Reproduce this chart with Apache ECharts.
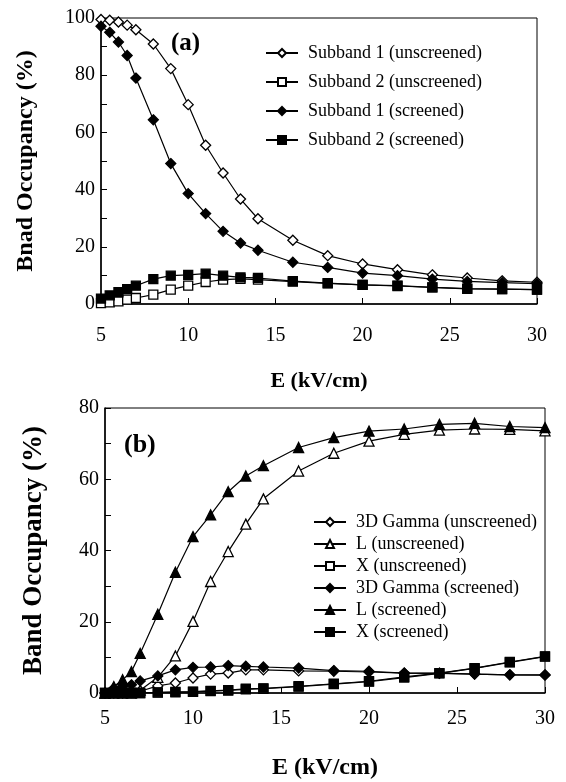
<!DOCTYPE html>
<html>
<head>
<meta charset="utf-8">
<script src="https://cdn.jsdelivr.net/npm/echarts@6/dist/echarts.min.js"></script>
<style>
    html, body { margin: 0; padding: 0; background: #fff; }
    #chart { width: 566px; height: 782px; }
</style>
</head>
<body>
<div id="chart"></div>
<script>
// field values (kV/cm), same for both panels
const fieldE = [5, 5.5, 6, 6.5, 7, 8, 9, 10, 11, 12, 13, 14, 16, 18, 20, 22, 24, 26, 28, 30];

// panel (a)
const sub1Unscreened = [99.5, 99.2, 98.6, 97.5, 95.9, 90.9, 82.3, 69.7, 55.5, 45.8, 36.7, 29.8, 22.3, 16.9, 14.0, 12.0, 10.2, 9.1, 8.1, 7.6];
const sub2Unscreened = [0.3, 0.6, 0.9, 1.5, 2.1, 3.3, 5.0, 6.4, 7.7, 8.5, 8.8, 8.5, 7.8, 7.2, 6.7, 6.3, 5.8, 5.4, 5.2, 5.0];
const sub1Screened = [97.1, 95.0, 91.6, 86.9, 79.0, 64.4, 49.1, 38.6, 31.6, 25.4, 21.3, 18.8, 14.6, 12.8, 10.8, 9.9, 8.7, 7.9, 7.5, 7.1];
const sub2Screened = [1.9, 3.0, 4.1, 5.2, 6.4, 8.7, 9.9, 10.2, 10.6, 9.9, 9.3, 9.1, 8.0, 7.3, 6.7, 6.4, 5.8, 5.3, 5.2, 5.0];

// panel (b)
const gammaUnscreened = [0, 0, 0, 0.2, 0.5, 2.0, 2.8, 4.2, 5.3, 5.6, 6.5, 6.5, 6.2, 6.1, 5.9, 5.6, 5.5, 5.3, 5.1, 5.0];
const lUnscreened = [0, 0, 0, 0, 0.8, 4.4, 10.4, 20.1, 31.3, 39.7, 47.4, 54.5, 62.3, 67.3, 70.7, 72.6, 73.8, 74.1, 74.0, 73.6];
const xUnscreened = [0, 0, 0, 0, 0, 0.1, 0.2, 0.3, 0.5, 0.7, 1.0, 1.2, 1.8, 2.5, 3.2, 4.3, 5.5, 6.9, 8.6, 10.2];
const gammaScreened = [0, 1.3, 1.8, 2.3, 3.4, 4.8, 6.5, 7.2, 7.3, 7.7, 7.5, 7.3, 7.0, 6.3, 6.1, 5.6, 5.6, 5.3, 5.1, 5.1];
const lScreened = [0, 1.8, 3.7, 6.0, 11.1, 22.1, 33.9, 43.9, 50.0, 56.5, 60.9, 63.8, 68.9, 71.7, 73.5, 74.1, 75.4, 75.7, 74.8, 74.5];
const xScreened = [0, 0, 0, 0, 0, 0.2, 0.3, 0.4, 0.6, 0.8, 1.2, 1.3, 1.9, 2.6, 3.3, 4.5, 5.6, 7.0, 8.7, 10.3];

const xTicks = [5, 30, 5];   // min, max, step
const yTicksA = [0, 100, 20];
const yTicksB = [0, 80, 20];

const legendA = ['Subband 1 (unscreened)', 'Subband 2 (unscreened)', 'Subband 1 (screened)', 'Subband 2 (screened)'];
const legendB = ['3D Gamma (unscreened)', 'L (unscreened)', 'X (unscreened)', '3D Gamma (screened)', 'L (screened)', 'X (screened)'];

window.addEventListener('load', function () {
    const font = 'Liberation Serif';
    let myChart = echarts.init(document.querySelector('#chart'), null, { renderer: 'canvas' });

    function pairs(values) {
        return fieldE.map(function (e, i) { return [e, values[i]]; });
    }

    function makeSeries(name, values, symbol, filled, idx, size) {
        return {
            name: name,
            type: 'line',
            xAxisIndex: idx,
            yAxisIndex: idx,
            data: pairs(values),
            symbol: symbol,
            symbolSize: size,
            showAllSymbol: true,
            animation: false,
            lineStyle: { color: '#000', width: 1.2 },
            itemStyle: {
                color: filled ? '#000' : '#fff',
                borderColor: '#000',
                borderWidth: 1.3
            }
        };
    }

    function xAxis(idx, labelMargin, nameSize, gap) {
        return {
            type: 'value',
            gridIndex: idx,
            min: xTicks[0], max: xTicks[1], interval: xTicks[2],
            name: 'E (kV/cm)',
            nameLocation: 'middle',
            nameGap: gap,
            nameTextStyle: { fontFamily: font, fontWeight: 'bold', fontSize: nameSize, color: '#000' },
            axisLine: { lineStyle: { color: '#000', width: 1.5 } },
            axisTick: { inside: true, length: 6, lineStyle: { color: '#000' } },
            axisLabel: { fontFamily: font, fontSize: 20, color: '#000', margin: labelMargin },
            splitLine: { show: false }
        };
    }

    function yAxis(idx, ticks, title, nameSize, gap) {
        return {
            type: 'value',
            gridIndex: idx,
            min: ticks[0], max: ticks[1], interval: ticks[2],
            name: title,
            nameLocation: 'middle',
            nameGap: gap,
            nameTextStyle: { fontFamily: font, fontWeight: 'bold', fontSize: nameSize, color: '#000' },
            axisLine: { lineStyle: { color: '#000', width: 1.5 } },
            axisTick: { inside: true, length: 6, lineStyle: { color: '#000' } },
            minorTick: { show: true, splitNumber: 2, length: 6, lineStyle: { color: '#000' } },
            axisLabel: { fontFamily: font, fontSize: 20, color: '#000', margin: 6 },
            splitLine: { show: false }
        };
    }

    let myChartOption = {
        backgroundColor: '#fff',
        animation: false,
        title: [{
            text: '(a)', left: 166, top: 26,
            textStyle: { fontFamily: font, fontWeight: 'bold', fontSize: 25, color: '#000' }
        }, {
            text: '(b)', left: 119, top: 427,
            textStyle: { fontFamily: font, fontWeight: 'bold', fontSize: 26, color: '#000' }
        }],
        grid: [
            { left: 101, right: 29, top: 18, height: 286, show: true, borderColor: '#000', borderWidth: 1 },
            { left: 105, right: 21, top: 408, height: 285, show: true, borderColor: '#000', borderWidth: 1 }
        ],
        legend: [{
            data: legendA,
            orient: 'vertical',
            left: 260, top: 39,
            itemWidth: 32, itemHeight: 10, itemGap: 11,
            selectedMode: false,
            textStyle: { fontFamily: font, fontSize: 18, color: '#000', padding: [0, 0, 0, 5] }
        }, {
            data: legendB,
            orient: 'vertical',
            left: 308, top: 508,
            itemWidth: 32, itemHeight: 10, itemGap: 4,
            selectedMode: false,
            textStyle: { fontFamily: font, fontSize: 18, color: '#000', padding: [0, 0, 0, 5] }
        }],
        xAxis: [xAxis(0, 22, 22, 66), xAxis(1, 16, 24, 63)],
        yAxis: [
            yAxis(0, yTicksA, 'Bnad Occupancy (%)', 24, 63),
            yAxis(1, yTicksB, 'Band Occupancy (%)', 27, 57)
        ],
        series: [
            makeSeries(legendA[0], sub1Unscreened, 'diamond', false, 0, 10),
            makeSeries(legendA[1], sub2Unscreened, 'rect', false, 0, 9),
            makeSeries(legendA[2], sub1Screened, 'diamond', true, 0, 10),
            makeSeries(legendA[3], sub2Screened, 'rect', true, 0, 9),
            makeSeries(legendB[0], gammaUnscreened, 'diamond', false, 1, 10),
            makeSeries(legendB[1], lUnscreened, 'triangle', false, 1, 10),
            makeSeries(legendB[2], xUnscreened, 'rect', false, 1, 9),
            makeSeries(legendB[3], gammaScreened, 'diamond', true, 1, 10),
            makeSeries(legendB[4], lScreened, 'triangle', true, 1, 10),
            makeSeries(legendB[5], xScreened, 'rect', true, 1, 9)
        ]
    };

    myChart.setOption(myChartOption);
});
</script>
</body>
</html>
